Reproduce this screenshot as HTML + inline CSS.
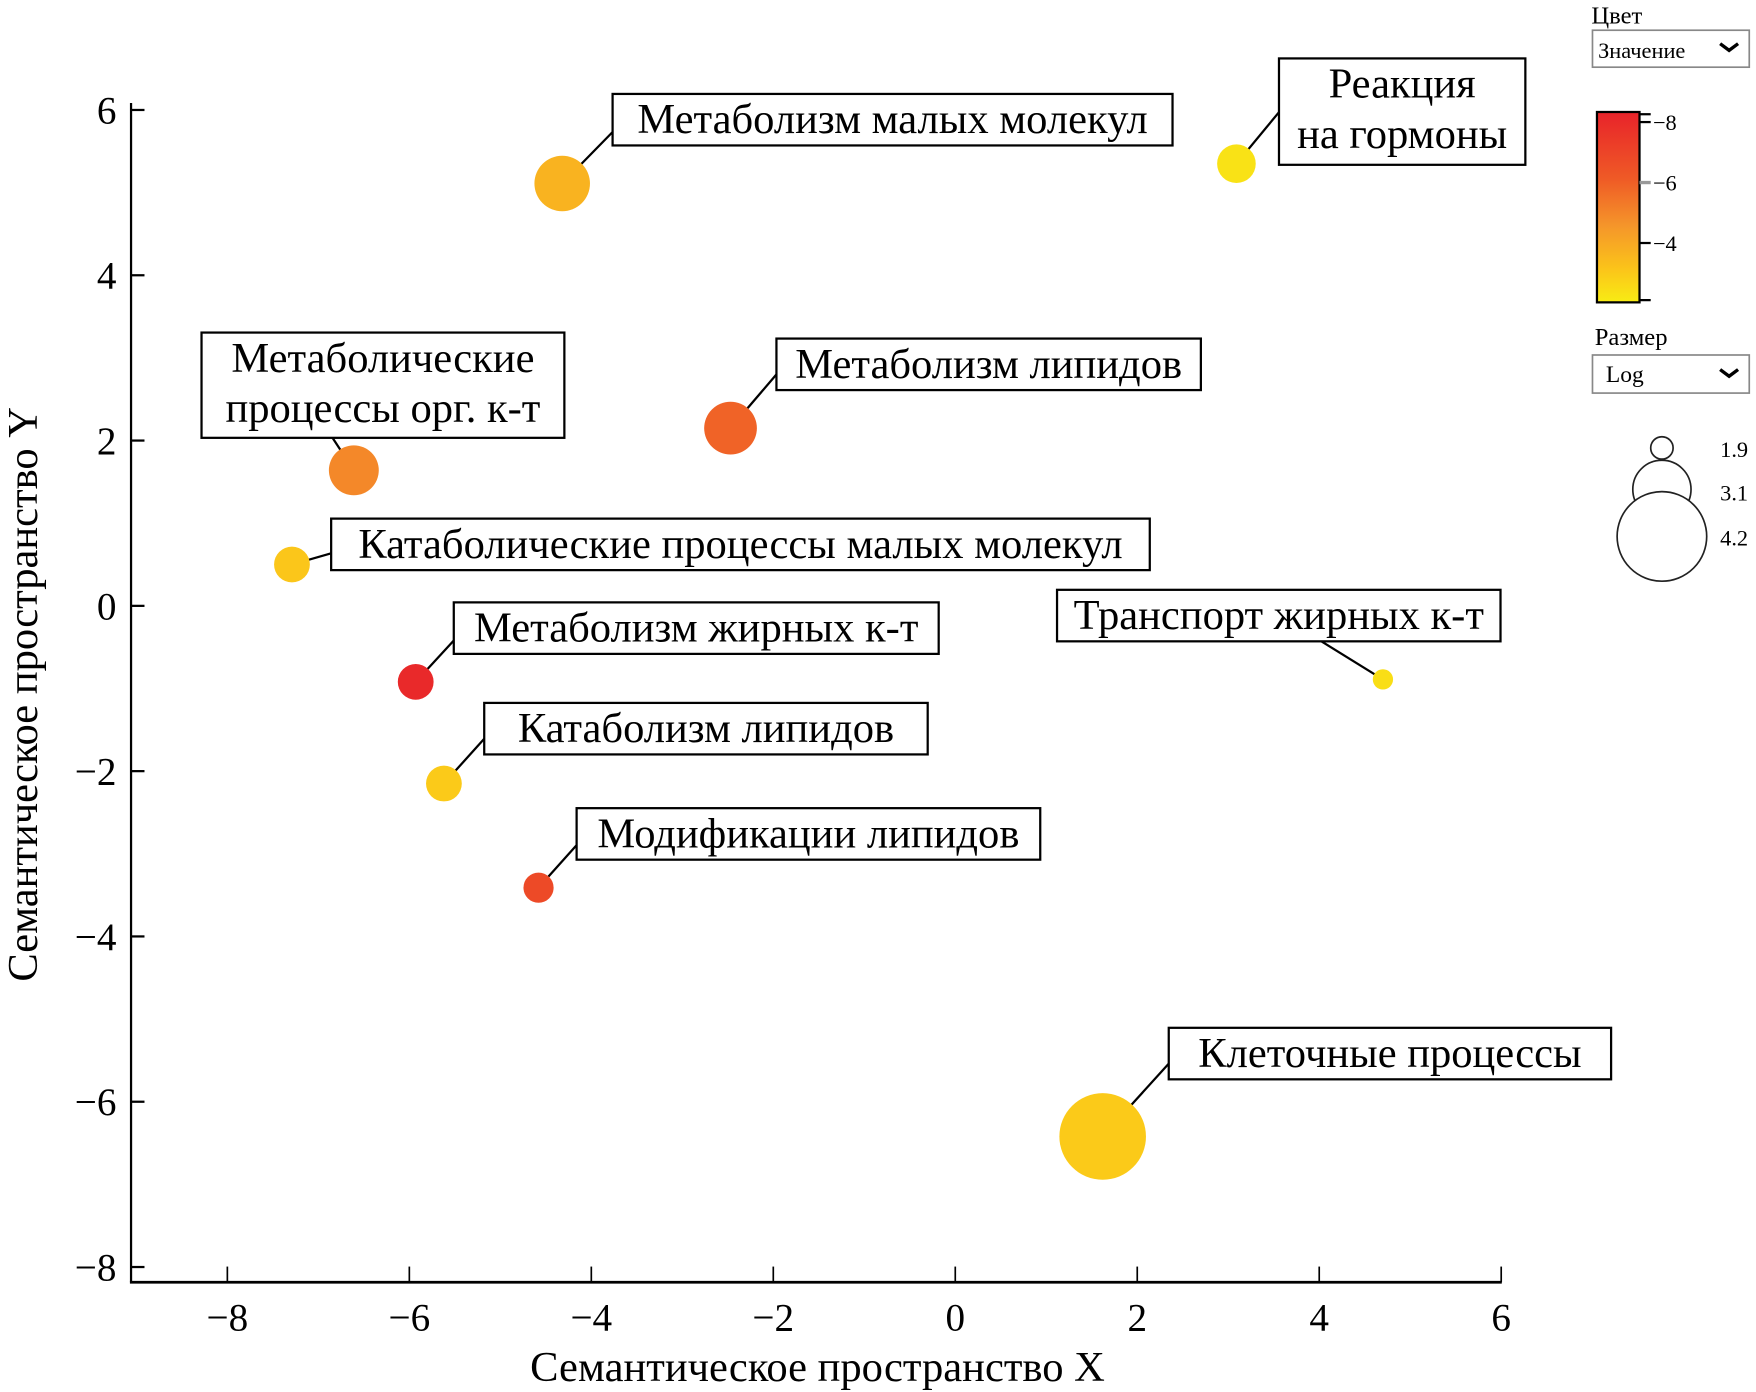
<!DOCTYPE html>
<html><head><meta charset="utf-8">
<style>
html,body{margin:0;padding:0;background:#fff;}
svg{display:block;font-family:"Liberation Serif","Noto Serif CJK SC",serif;}
</style></head>
<body>
<svg id="chart" width="1756" height="1392" viewBox="0 0 1568 1243" xmlns="http://www.w3.org/2000/svg">
<defs>
<linearGradient id="cbar" x1="0" y1="0" x2="0" y2="1">
<stop offset="0" stop-color="#e8232a"/>
<stop offset="0.35" stop-color="#ef5a26"/>
<stop offset="0.6" stop-color="#f5962a"/>
<stop offset="0.82" stop-color="#fbc31a"/>
<stop offset="1" stop-color="#f8ec14"/>
</linearGradient>
</defs>
<g id="axes"></g>
<g id="leaders"></g>
<g id="points"></g>
<g id="labels"></g>
<g id="legend">
  <text x="1421" y="21" font-size="22">Цвет</text>
  <g>
    <rect x="1422" y="27" width="140" height="33" fill="#fff" stroke="#888" stroke-width="1.5"/>
    <text x="1427" y="52" font-size="20">Значение</text>
    <path d="M1536 39 l8 6 l8 -6" fill="none" stroke="#000" stroke-width="3"/>
  </g>
  <rect x="1426" y="100" width="38" height="170" fill="url(#cbar)" stroke="#000" stroke-width="2"/>
  <g font-size="20" stroke="#000">
    <line x1="1464" y1="102" x2="1474" y2="102" stroke-width="2"/>
    <line x1="1464" y1="109" x2="1474" y2="109" stroke-width="2"/>
    <line x1="1464" y1="163" x2="1474" y2="163" stroke="#999" stroke-width="3"/>
    <line x1="1464" y1="217" x2="1474" y2="217" stroke-width="2"/>
    <line x1="1464" y1="268" x2="1474" y2="268" stroke-width="2"/>
    <text x="1476" y="116" stroke="none">−8</text>
    <text x="1476" y="170" stroke="none">−6</text>
    <text x="1476" y="224" stroke="none">−4</text>
  </g>
  <text x="1424" y="308" font-size="22">Размер</text>
  <g>
    <rect x="1422" y="317" width="140" height="34" fill="#fff" stroke="#888" stroke-width="1.5"/>
    <text x="1434" y="341" font-size="21">Log</text>
    <path d="M1536 330 l8 6 l8 -6" fill="none" stroke="#000" stroke-width="3"/>
  </g>
  <g fill="#fff" stroke="#222" stroke-width="1.5">
    <circle cx="1484" cy="437" r="26"/>
    <circle cx="1484" cy="479" r="40"/>
    <circle cx="1484" cy="400" r="10"/>
    <text x="1536" y="408" font-size="20" fill="#000" stroke="none">1.9</text>
    <text x="1536" y="447" font-size="20" fill="#000" stroke="none">3.1</text>
    <text x="1536" y="487" font-size="20" fill="#000" stroke="none">4.2</text>
  </g>
</g>
</svg>
<script>
const names = ["Метаболизм малых молекул","Реакция|на гормоны","Метаболические|процессы орг. к-т","Метаболизм липидов","Катаболические процессы малых молекул","Метаболизм жирных к-т","Катаболизм липидов","Модификации липидов","Транспорт жирных к-т","Клеточные процессы"];
const xVals = [-4.32, 3.09, -6.61, -2.47, -7.29, -5.93, -5.62, -4.58, 4.70, 1.62];
const yVals = [5.11, 5.35, 1.64, 2.15, 0.50, -0.92, -2.15, -3.41, -0.89, -6.42];
const colorVals = [-3.8, -2.4, -5.0, -5.8, -3.2, -7.8, -3.1, -6.6, -2.5, -3.1];
const sizeVals = [3.0, 2.4, 2.8, 2.9, 2.3, 2.3, 2.3, 2.1, 1.75, 4.1];
const xTicks = [-8,-6,-4,-2,0,2,4,6];
const yTicks = [6,4,2,0,-2,-4,-6,-8];

const NS="http://www.w3.org/2000/svg";
function sx(v){return 853+v*81.25;}
function sy(v){return 541-v*73.8;}
function sr(v){return 12.6*v-13;}
function mk(tag,attrs,parent){const e=document.createElementNS(NS,tag);for(const k in attrs)e.setAttribute(k,attrs[k]);parent.appendChild(e);return e;}
function col(v){
  const stops=[[-8,[232,35,42]],[-6,[239,90,38]],[-4.7,[245,150,42]],[-3.3,[251,195,26]],[-2.1,[248,236,20]]];
  if(v<=-8)return"rgb(232,35,42)";
  for(let i=0;i<stops.length-1;i++){const a=stops[i],b=stops[i+1];if(v<=b[0]){const t=(v-a[0])/(b[0]-a[0]);const c=a[1].map((x,j)=>Math.round(x+(b[1][j]-x)*t));return"rgb("+c.join(",")+")";}}
  return"rgb(248,236,20)";
}
const ax=document.getElementById('axes');
const yl=mk('line',{x1:117,y1:92,x2:117,y2:1145,stroke:'#000','stroke-width':2},ax);


const xl=mk('line',{x1:116,y1:1145,x2:1341,y2:1145,stroke:'#000','stroke-width':2.5},ax);


xTicks.forEach(t=>{
  mk('line',{x1:sx(t),y1:1131,x2:sx(t),y2:1145,stroke:'#000','stroke-width':1.5},ax);
  const tx=mk('text',{x:sx(t),y:1188,'font-size':35,'text-anchor':'middle'},ax);
  tx.textContent=(t<0?'−':'')+Math.abs(t);
  
  
});
yTicks.forEach(t=>{
  mk('line',{x1:117,y1:sy(t),x2:129,y2:sy(t),stroke:'#000','stroke-width':2},ax);
  const tx=mk('text',{x:104,y:sy(t)+12,'font-size':35,'text-anchor':'end'},ax);
  tx.textContent=(t<0?'−':'')+Math.abs(t);
  
  
});
const xt=mk('text',{x:730,y:1233,'font-size':38,'text-anchor':'middle'},ax);
xt.textContent='Семантическое пространство X';


const yt=mk('text',{x:0,y:0,'font-size':38,'text-anchor':'middle',transform:'translate(33,620) rotate(-90)'},ax);
yt.textContent='Семантическое пространство Y';



// label layout offsets (box left/top relative to point, width, height, anchor relative to box)
const layout=[
 [45,-80,500,46,0,34],[38,-94,220,95,0,48],[-136,-123,324,94,117,94],[41,-80,379,46,0,32],
 [35,-41,731,46,0,31],[34,-71,433,46,0,34],[36,-72,396,46,0,32],[34,-71,414,46,0,33],
 [-291,-80,396,46,236,46],[59,-97,395,46,0,32]];
const lg=document.getElementById('leaders'),pg=document.getElementById('points'),lb=document.getElementById('labels');
names.forEach((n,i)=>{
  const px=sx(xVals[i]),py=sy(yVals[i]);const L=layout[i];
  const bx=px+L[0],by=py+L[1];
  const ln=mk('line',{x1:bx+L[4],y1:by+L[5],x2:px,y2:py,stroke:'#000','stroke-width':2},lg);
  
  
  const c=mk('circle',{cx:px,cy:py,r:sr(sizeVals[i]),fill:col(colorVals[i])},pg);
  
  
  const g=mk('g',{},lb);
  
  
  mk('rect',{x:bx,y:by,width:L[2],height:L[3],fill:'#fff',stroke:'#000','stroke-width':2},g);
  const lines=n.split('|');
  lines.forEach((s,k)=>{
    const t=mk('text',{x:bx+L[2]/2,y:by+35+k*45,'font-size':38,'text-anchor':'middle'},g);
    t.textContent=s;
  });
});
</script>
</body></html>
